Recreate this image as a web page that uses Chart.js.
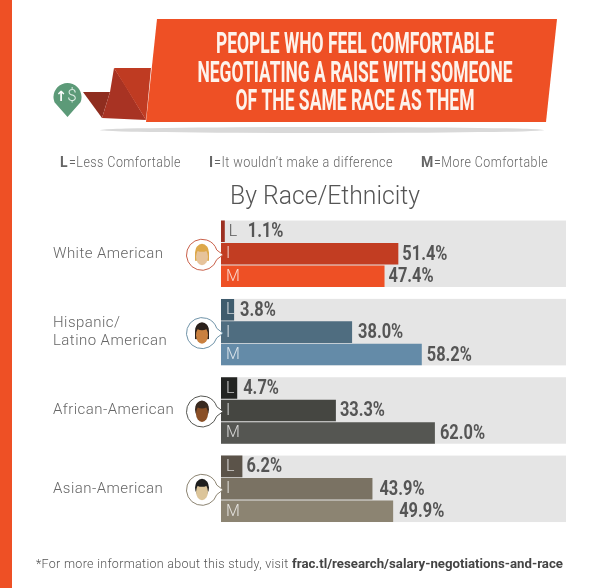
<!DOCTYPE html>
<html>
<head>
<meta charset="utf-8">
<title>Comfort negotiating a raise</title>
<script src="https://cdn.jsdelivr.net/npm/chart.js@4"></script>
<style>
  html, body { margin:0; padding:0; background:#fff; }
  #wrap { width:600px; height:588px; position:relative; }
</style>
</head>
<body>
<div id="wrap"><canvas id="chart"></canvas></div>
<script>
// DATA

const categories = ['White American', ['Hispanic/', 'Latino American'], 'African-American', 'Asian-American'];
const lessValues = [1.1, 3.8, 4.7, 6.2];
const sameValues = [51.4, 38.0, 33.3, 43.9];
const moreValues = [47.4, 58.2, 62.0, 49.9];
const barLetters = ['L', 'I', 'M'];
const titleLines = ['PEOPLE WHO FEEL COMFORTABLE', 'NEGOTIATING A RAISE WITH SOMEONE', 'OF THE SAME RACE AS THEM'];

// STYLE

const lessColors = ['#9c3022', '#3f5c6d', '#232422', '#5b5349'];
const sameColors = ['#c23d22', '#4f6d80', '#454641', '#7a7263'];
const moreColors = ['#ee5025', '#648ba8', '#555652', '#8c8472'];
const ringColors = ['#c9604a', '#6f93a8', '#555652', '#8c8472'];
const skinColors = ['#e6c39b', '#c9803f', '#8a4f26', '#dcc59a'];
const hairColors = ['#dda84a', '#2b211c', '#3a2a20', '#1e1e1e'];
// space between bar end and its label, per dataset and group
const labelGaps = [[23, 6, 6, 4], [4, 6, 4, 7], [4, 5, 5, 6]];

const textGrey = '#666';

function text(ctx, str, x, y, font, color, align, maxW, spacing) {
  ctx.font = font;
  ctx.fillStyle = color;
  ctx.textAlign = align || 'left';
  ctx.textBaseline = 'middle';
  ctx.letterSpacing = spacing || '0px';
  if (maxW) ctx.fillText(str, x, y, maxW);
  else ctx.fillText(str, x, y);
  ctx.letterSpacing = '0px';
}

function poly(ctx, pts, color) {
  ctx.fillStyle = color;
  ctx.beginPath();
  pts.forEach((p, i) => i ? ctx.lineTo(p[0], p[1]) : ctx.moveTo(p[0], p[1]));
  ctx.closePath();
  ctx.fill();
}

function drawHeader(ctx) {
  // left strip
  ctx.fillStyle = '#ee5025';
  ctx.fillRect(0, 0, 12, 588);

  // shadow
  ctx.fillStyle = '#d9d9d9';
  ctx.beginPath();
  ctx.ellipse(322, 130, 222, 3, 0, 0, Math.PI * 2);
  ctx.fill();

  // ribbon
  poly(ctx, [[83, 92], [110, 92], [102, 118]], '#8f2d1f');
  poly(ctx, [[114, 68], [110, 92], [102, 118], [146, 120], [125, 85]], '#a83323');
  poly(ctx, [[114, 68], [151, 68], [146, 120]], '#bf3b22');
  poly(ctx, [[157, 19], [557, 19], [546, 122], [146, 122]], '#ee5025');

  // pin
  ctx.fillStyle = '#5c9a78';
  ctx.beginPath();
  ctx.arc(67.5, 97, 14, 0.12 * Math.PI, 0.88 * Math.PI, true);
  ctx.lineTo(67.5, 117);
  ctx.closePath();
  ctx.fill();
  text(ctx, '↑', 61, 97, 'bold 14px "DejaVu Sans"', '#fff', 'center');
  text(ctx, '$', 72, 97, '300 17px Roboto', '#dfeee6', 'center');

  // title
  const widths = [278, 315, 239];
  titleLines.forEach((line, i) => {
    text(ctx, line, 355, 46 + i * 28.5, 'bold 29px Roboto', '#fdf3ec', 'center', widths[i]);
  });

  // key
  const keyFont = '300 14px Roboto';
  const keyBold = 'bold 14px Roboto';
  text(ctx, 'L', 60, 163, keyBold, textGrey);
  text(ctx, '=Less Comfortable', 69, 163, keyFont, textGrey, 'left', 112, '0.5px');
  text(ctx, 'I', 209, 163, keyBold, textGrey);
  text(ctx, "=It wouldn’t make a difference", 214, 163, keyFont, textGrey, 'left', 179, '0.5px');
  text(ctx, 'M', 421, 163, keyBold, textGrey);
  text(ctx, '=More Comfortable', 434, 163, keyFont, textGrey, 'left', 114, '0.5px');

  text(ctx, 'By Race/Ethnicity', 325, 197, '300 26px Roboto', '#555', 'center', 190);

  // footnote
  text(ctx, '*For more information about this study, visit ', 36, 565, '300 13px Roboto', '#555', 'left', 256, '0.3px');
  text(ctx, 'frac.tl/research/salary-negotiations-and-race', 292, 565, 'bold 13.5px Roboto', '#444', 'left', 271);
}

function drawFace(ctx, i, cy) {
  const cx = 202;
  ctx.fillStyle = '#fff';
  ctx.strokeStyle = ringColors[i];
  ctx.lineWidth = 1;
  ctx.beginPath();
  ctx.arc(cx, cy, 15.5, 0.1 * Math.PI, 1.9 * Math.PI);
  ctx.lineTo(223, cy);
  ctx.closePath();
  ctx.fill();
  ctx.stroke();

  // hair behind the face
  ctx.fillStyle = hairColors[i];
  ctx.beginPath();
  ctx.ellipse(cx, cy - 2, 7, 9, 0, 0, Math.PI * 2);
  ctx.fill();
  if (i < 2) {
    ctx.fillRect(cx - 7, cy - 2, 14, 8);
  }
  ctx.fillStyle = skinColors[i];
  ctx.beginPath();
  ctx.ellipse(cx, cy + 2, 6, 8.5, 0, 0, Math.PI * 2);
  ctx.fill();
  // fringe
  ctx.fillStyle = hairColors[i];
  ctx.beginPath();
  ctx.ellipse(cx, cy - 6, 6, 3, 0, 0, Math.PI * 2);
  ctx.fill();
}

// tracks sit behind the bars, header + faces + labels are painted around them
const tracksPlugin = {
  id:'tracks',
  beforeDraw(chart) {
    // wider tick labels, as in the original
    chart.ctx.letterSpacing = '0.45px';
  },
  beforeDatasetsDraw(chart) {
    const ctx = chart.ctx;
    ctx.letterSpacing = '0px';
    const first = chart.getDatasetMeta(0).data;
    const last = chart.getDatasetMeta(2).data;
    const x0 = chart.scales.x.getPixelForValue(0);
    const x1 = chart.scales.x.getPixelForValue(100);
    ctx.save();
    ctx.fillStyle = '#e5e5e5';
    first.forEach((bar, i) => {
      const top = bar.y - bar.height / 2;
      const bottom = last[i].y + last[i].height / 2;
      ctx.fillRect(x0, top, x1 - x0, bottom - top);
    });
    ctx.restore();
  },
  afterDatasetsDraw(chart) {
    const ctx = chart.ctx;
    ctx.save();
    drawHeader(ctx);
    const valueFont = 'bold 20px Roboto';
    chart.data.datasets.forEach((ds, d) => {
      chart.getDatasetMeta(d).data.forEach((bar, i) => {
        const val = ds.data[i].toFixed(1) + '%';
        const outside = d === 0 && i === 0;
        const letterX = outside ? bar.x + 4 : chart.scales.x.left + 5;
        text(ctx, barLetters[d], letterX, bar.y + 0.5, '300 16px Roboto',
          outside ? '#555' : 'rgba(255,255,255,0.75)');
        ctx.font = valueFont;
        const squeezed = ctx.measureText(val).width * 0.82;
        text(ctx, val, bar.x + labelGaps[d][i], bar.y + 1, valueFont, '#555', 'left', squeezed);
      });
    });
    chart.getDatasetMeta(1).data.forEach((bar, i) => drawFace(ctx, i, bar.y + 1));
    ctx.restore();
  }
};

// CHART

const ctx = document.getElementById('chart');
new Chart(ctx, {
  type:'bar',
  data:{
    labels:categories,
    datasets:[
      { label:'Less Comfortable', data:lessValues, backgroundColor:lessColors },
      { label:'It wouldn’t make a difference', data:sameValues, backgroundColor:sameColors },
      { label:'More Comfortable', data:moreValues, backgroundColor:moreColors }
    ]
  },
  options:{
    indexAxis:'y',
    responsive:true,
    maintainAspectRatio:false,
    animation:false,
    layout:{
      padding:{ left:53, right:34, top:214.6, bottom:60 }
    },
    datasets:{
      bar:{ categoryPercentage:0.86, barPercentage:0.96 }
    },
    plugins:{
      legend:{ display:false },
      tooltip:{ enabled:false }
    },
    scales:{
      x:{ display:false, min:0, max:100 },
      y:{
        afterFit(scale) { scale.width = 168; },
        grid:{ display:false },
        border:{ display:false },
        ticks:{
          crossAlign:'far',
          color:textGrey,
          font:{ family:'Roboto', size:15, weight:'300', lineHeight:1.25 }
        }
      }
    }
  },
  plugins:[tracksPlugin]
});
</script>
</body>
</html>
